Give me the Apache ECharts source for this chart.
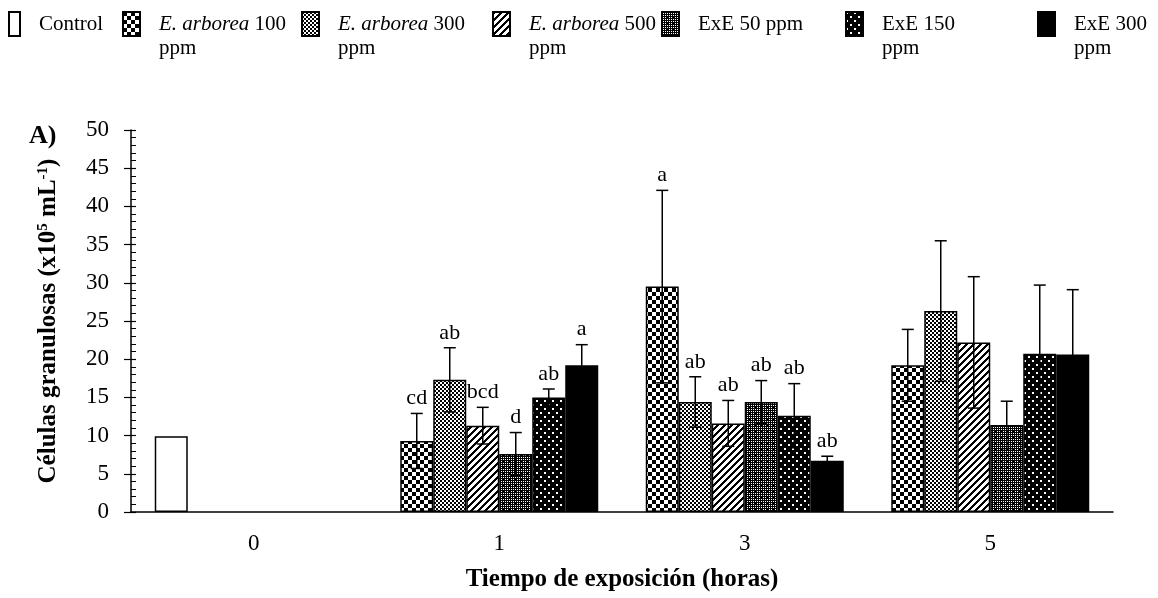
<!DOCTYPE html>
<html>
<head>
<meta charset="utf-8">
<script src="https://cdn.jsdelivr.net/npm/echarts@6/dist/echarts.min.js"></script>
<style>
  html, body { margin: 0; padding: 0; background: #fff; }
  #chart { width: 1158px; height: 598px; }
</style>
</head>
<body>
<div id="chart"></div>
<script>
// Exposure time (hours)
const hours = ['0', '1', '3', '5'];
const yTicks = [0, 5, 10, 15, 20, 25, 30, 35, 40, 45, 50];

// Granulosa cells (x10^5 mL^-1): means, standard deviations, significance letters
const control = [9.9, null, null, null];

const ea100 = [null, 9.3, 29.5, 19.2];
const ea100Sd = [null, 3.6, 12.6, 4.7];
const ea100Letters = ['', 'cd', 'a', ''];

const ea300 = [null, 17.3, 14.4, 26.3];
const ea300Sd = [null, 4.2, 3.3, 9.2];
const ea300Letters = ['', 'ab', 'ab', ''];

const ea500 = [null, 11.3, 11.6, 22.2];
const ea500Sd = [null, 2.4, 3.0, 8.6];
const ea500Letters = ['', 'bcd', 'ab', ''];

const exe50 = [null, 7.6, 14.4, 11.4];
const exe50Sd = [null, 2.8, 2.8, 3.1];
const exe50Letters = ['', 'd', 'ab', ''];

const exe150 = [null, 15.0, 12.6, 20.7];
const exe150Sd = [null, 1.1, 4.2, 9.0];
const exe150Letters = ['', 'ab', 'ab', ''];

const exe300 = [null, 19.2, 6.7, 20.6];
const exe300Sd = [null, 2.7, 0.6, 8.5];
const exe300Letters = ['', 'a', 'ab', ''];

const FONT = "'Liberation Serif', 'Times New Roman', serif";
const BAR_W = 33;

// Monochrome fill patterns drawn on small tiles
function tile(w, h, isBlack) {
  const c = document.createElement('canvas');
  c.width = w; c.height = h;
  const ctx = c.getContext('2d');
  const img = ctx.createImageData(w, h);
  for (let y = 0; y < h; y++) {
    for (let x = 0; x < w; x++) {
      const v = isBlack(x, y) ? 0 : 255;
      const i = (y * w + x) * 4;
      img.data[i] = v; img.data[i + 1] = v; img.data[i + 2] = v; img.data[i + 3] = 255;
    }
  }
  ctx.putImageData(img, 0, 0);
  return { image: c, repeat: 'repeat' };
}
const fills = {
  control: '#ffffff',
  largeChecker: tile(8, 8, (x, y) => ((x >> 2) + (y >> 2)) % 2 === 0),
  smallChecker: tile(4, 4, (x, y) => ((x >> 1) + (y >> 1)) % 2 === 0),
  diagonal: tile(7, 7, (x, y) => (x + y) % 7 < 3),
  dotGrid: tile(6, 6, (x, y) => !((x % 2 === 1 && y % 2 === 1) && !(x === 5 && y === 5))),
  whiteDots: tile(8, 8, (x, y) => !((x < 2 && y < 2) || (x >= 4 && x < 6 && y >= 4 && y < 6))),
  solid: '#000000'
};

const names = ['Control', 'E. arborea 100 ppm', 'E. arborea 300 ppm', 'E. arborea 500 ppm',
  'ExE 50 ppm', 'ExE 150 ppm', 'ExE 300 ppm'];

const treatments = [
  { name: names[1], values: ea100, sd: ea100Sd, letters: ea100Letters, fill: fills.largeChecker },
  { name: names[2], values: ea300, sd: ea300Sd, letters: ea300Letters, fill: fills.smallChecker },
  { name: names[3], values: ea500, sd: ea500Sd, letters: ea500Letters, fill: fills.diagonal },
  { name: names[4], values: exe50, sd: exe50Sd, letters: exe50Letters, fill: fills.dotGrid },
  { name: names[5], values: exe150, sd: exe150Sd, letters: exe150Letters, fill: fills.whiteDots },
  { name: names[6], values: exe300, sd: exe300Sd, letters: exe300Letters, fill: fills.solid }
];

const barBorder = { borderColor: '#000', borderWidth: 1.5 };

const series = [{
  name: names[0], type: 'bar', stack: 'first', barWidth: BAR_W, barGap: '0%',
  data: control, itemStyle: Object.assign({ color: fills.control }, barBorder), z: 2
}];
treatments.forEach((t, k) => {
  series.push({
    name: t.name, type: 'bar', barWidth: BAR_W, barGap: '0%',
    stack: k === 0 ? 'first' : undefined,
    data: t.values, itemStyle: Object.assign({ color: t.fill }, barBorder), z: 2
  });
});

// Error bars and letters, one mark per treatment and hour
const marks = [];
treatments.forEach((t, slot) => {
  t.values.forEach((v, cat) => {
    if (v != null) marks.push({ value: [cat, v, t.sd[cat], slot], letter: t.letters[cat] });
  });
});

series.push({
  type: 'custom', name: 'sd', z: 5, silent: true,
  data: marks.map(m => m.value),
  renderItem: function (params, api) {
    const cat = api.value(0), mean = api.value(1), sd = api.value(2), slot = api.value(3);
    const dx = (slot - 2.5) * BAR_W;
    const top = api.coord([cat, mean + sd]);
    const bot = api.coord([cat, mean - sd]);
    const x = top[0] + dx;
    const line = { stroke: '#000', lineWidth: 1.5 };
    const children = [
      { type: 'line', shape: { x1: x, y1: top[1], x2: x, y2: bot[1] }, style: line },
      { type: 'line', shape: { x1: x - 6, y1: top[1], x2: x + 6, y2: top[1] }, style: line },
      { type: 'line', shape: { x1: x - 6, y1: bot[1], x2: x + 6, y2: bot[1] }, style: line }
    ];
    const letter = marks[params.dataIndex].letter;
    if (letter) {
      children.push({
        type: 'text',
        style: { x: x, y: top[1] - 4, text: letter, fill: '#000', font: '22px ' + FONT,
          align: 'center', verticalAlign: 'bottom' }
      });
    }
    return { type: 'group', children: children };
  }
});

// Legend: one component per entry so each sits at its own spot
const legendSpots = [
  { left: 8, w: 11 }, { left: 122, w: 17 }, { left: 301, w: 17 }, { left: 492, w: 17 },
  { left: 661, w: 17 }, { left: 845, w: 17 }, { left: 1037, w: 17 }
];
function legendText(name) {
  if (name.startsWith('E. arborea')) {
    const dose = name.replace('E. arborea ', '').replace(' ppm', '');
    return '{i|E. arborea}{n| ' + dose + '}\n{n|ppm}';
  }
  if (name === 'ExE 150 ppm' || name === 'ExE 300 ppm') {
    return '{n|' + name.replace(' ppm', '') + '}\n{n|ppm}';
  }
  return '{n|' + name + '}';
}
const legends = names.map((n, i) => {
  const twoLines = legendText(n).indexOf('\n') >= 0;
  return {
    left: legendSpots[i].left, top: 11, padding: 0, data: [n], icon: 'rect',
    itemWidth: legendSpots[i].w, itemHeight: 24, selectedMode: false,
    formatter: legendText,
    textStyle: {
      padding: twoLines ? [24, 0, 0, 14] : [0, 0, 0, 14],
      rich: {
        n: { fontFamily: FONT, fontSize: 21, color: '#000', lineHeight: 24 },
        i: { fontFamily: FONT, fontSize: 21, color: '#000', fontStyle: 'italic', lineHeight: 24 }
      }
    }
  };
});

const chart = echarts.init(document.getElementById('chart'), null, { renderer: 'canvas' });
chart.setOption({
  animation: false,
  backgroundColor: '#fff',
  legend: legends,
  grid: { left: 131, right: 45, top: 130, bottom: 86, containLabel: false },
  xAxis: {
    type: 'category', data: hours,
    axisLine: { lineStyle: { color: '#000', width: 1.5 } },
    axisTick: { show: false },
    axisLabel: { color: '#000', fontFamily: FONT, fontSize: 23, margin: 20 },
    name: 'Tiempo de exposición (horas)', nameLocation: 'middle', nameGap: 55,
    nameTextStyle: { color: '#000', fontFamily: FONT, fontSize: 25, fontWeight: 'bold' }
  },
  yAxis: [{
    type: 'value', min: yTicks[0], max: yTicks[yTicks.length - 1], interval: 5,
    axisLine: { show: true, lineStyle: { color: '#000', width: 1.5 } },
    axisTick: { show: true, length: 7, lineStyle: { color: '#000', width: 1.2 } },
    axisLabel: { color: '#000', fontFamily: FONT, fontSize: 23, margin: 22 },
    splitLine: { show: false },
    name: '{b|Células granulosas (x10}{s|5}{b| mL}{s|-1}{b|)}',
    nameLocation: 'middle', nameGap: 70,
    nameTextStyle: {
      rich: {
        b: { fontFamily: FONT, fontSize: 25, fontWeight: 'bold', color: '#000' },
        s: { fontFamily: FONT, fontSize: 15, fontWeight: 'bold', color: '#000', verticalAlign: 'top', padding: [0, 0, 10, 0] }
      }
    }
  }, {
    type: 'value', min: yTicks[0], max: yTicks[yTicks.length - 1], interval: 5, position: 'left',
    axisLine: { show: false },
    axisTick: { show: true, inside: true, length: 5, lineStyle: { color: '#000', width: 1.2 } },
    minorTick: { show: true, splitNumber: 5, length: 5, lineStyle: { color: '#000', width: 1 } },
    axisLabel: { show: false },
    splitLine: { show: false }
  }],
  graphic: [{
    type: 'text', left: 29, top: 123,
    style: { text: 'A)', fill: '#000', font: 'bold 26px ' + FONT }
  }],
  series: series
});
</script>
</body>
</html>
